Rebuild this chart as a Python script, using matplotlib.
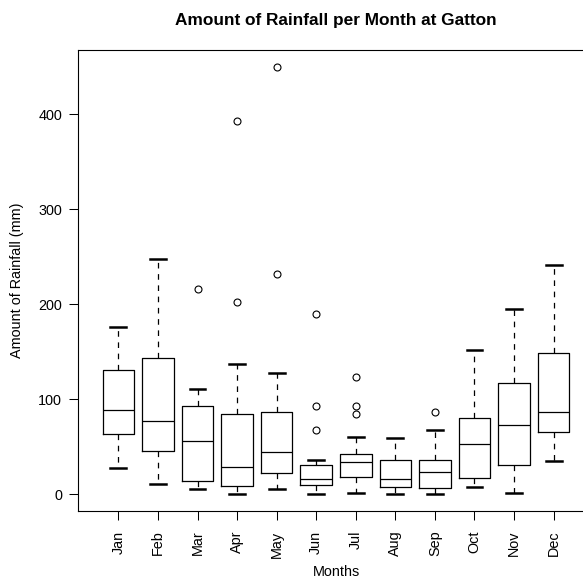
import matplotlib
matplotlib.use("Agg")
import matplotlib.pyplot as plt

# Monthly rainfall summary (mm) at Gatton
months = ["Jan", "Feb", "Mar", "Apr", "May", "Jun",
          "Jul", "Aug", "Sep", "Oct", "Nov", "Dec"]
whisker_low = [27.7, 10.5, 4.9, 0.0, 5.6, 0.0, 1.4, 0.0, 0.0, 7.7, 1.0, 34.7]
quartile_1 = [62.8, 44.9, 13.7, 8.8, 22.5, 9.8, 17.5, 7.4, 6.7, 16.8, 30.5, 64.9]
medians = [88.1, 77.2, 56.1, 28.1, 43.9, 16.1, 33.3, 16.1, 23.2, 53.0, 73.0, 86.7]
quartile_3 = [130.2, 143.5, 92.6, 84.6, 86.0, 30.9, 42.5, 36.1, 36.1, 80.4, 117.2, 148.8]
whisker_high = [175.8, 247.0, 110.9, 136.5, 127.4, 35.8, 60.0, 59.3, 67.4, 151.9, 194.7, 240.7]
outliers = [[], [], [215.8], [202.0, 393.0], [232.0, 449.0], [67.7, 93.0, 189.5],
            [84.6, 93.0, 123.2], [], [86.3], [], [], []]
y_ticks = [0, 100, 200, 300, 400]

plt.rcParams["font.family"] = ["Liberation Sans", "DejaVu Sans"]

W, H = 583, 585
fig = plt.figure(figsize=(W / 100, H / 100), dpi=100)

# plot region in pixels (right edge runs past the canvas)
left_px, right_px, top_px, bottom_px = 78, 594, 50.4, 511.1
ax = fig.add_axes([left_px / W, 1 - bottom_px / H,
                   (right_px - left_px) / W, (bottom_px - top_px) / H])

stats = []
for i, m in enumerate(months):
    stats.append(dict(label=m, whislo=whisker_low[i], q1=quartile_1[i],
                      med=medians[i], q3=quartile_3[i],
                      whishi=whisker_high[i], fliers=outliers[i]))

lw = 0.9
ax.bxp(stats, positions=range(1, len(months) + 1), widths=0.8, capwidths=0.4,
       showfliers=True,
       boxprops=dict(color="black", linewidth=lw),
       medianprops=dict(color="black", linewidth=lw),
       whiskerprops=dict(color="black", linewidth=lw, linestyle=(0, (4.5, 4.5))),
       capprops=dict(color="black", linewidth=1.8),
       flierprops=dict(marker="o", markersize=5, markerfacecolor="none",
                       markeredgecolor="black", markeredgewidth=0.8))

ax.set_xlim(-0.02, 13.02)
ax.set_ylim(-17.96, 466.96)

ax.set_xticks(range(1, len(months) + 1))
ax.set_xticklabels(months, rotation=90, fontsize=10.4)
ax.set_yticks(y_ticks)
ax.set_yticklabels([str(v) for v in y_ticks], fontsize=10.4)
ax.tick_params(axis="both", length=6.5, width=0.75, color="black")
ax.tick_params(axis="x", pad=7.5)
ax.tick_params(axis="y", pad=5)

for side in ["left", "top", "bottom", "right"]:
    ax.spines[side].set_linewidth(0.8)
    ax.spines[side].set_color("black")

fig.text(336 / W, 1 - 25 / H, "Amount of Rainfall per Month at Gatton",
         ha="center", va="baseline", fontsize=12.4, fontweight="bold")
fig.text(336 / W, 1 - 572 / H, "Months", ha="center", va="center", fontsize=10.4)
fig.text(17 / W, 1 - 280.5 / H, "Amount of Rainfall (mm)", ha="center",
         va="center", rotation=90, fontsize=10.4)

fig.savefig("out.png", dpi=100, facecolor="white")
